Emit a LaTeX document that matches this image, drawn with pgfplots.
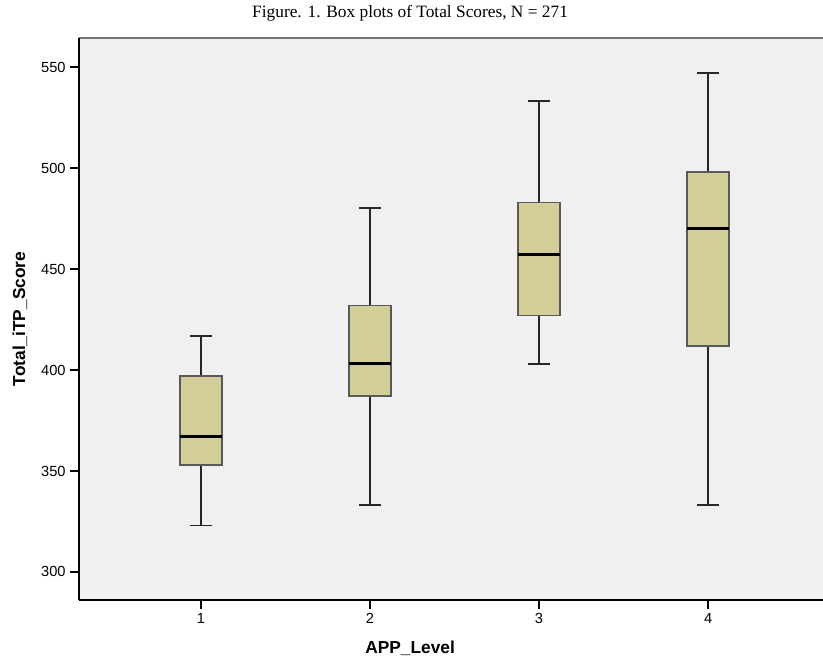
\documentclass[border=0pt]{standalone}
\usepackage{pgfplots}
\pgfplotsset{compat=1.18}
\usepackage{fontspec}
\setmainfont{Liberation Serif}
\newfontfamily\arial{Liberation Sans}
\definecolor{boxfill}{RGB}{211,206,151}
\definecolor{bgc}{RGB}{240,240,240}
\begin{document}
\begin{tikzpicture}
\begin{axis}[
 scale only axis, width=558pt, height=421.5pt,
 xmin=0.278, xmax=4.680, ymin=286.1, ymax=564.4,
 axis background/.style={fill=bgc},
 axis line style={draw=none},
 xtick={1,2,3,4}, ytick={300,350,...,550},
 tick align=outside, xtick pos=bottom, ytick pos=left,
 major tick length=6.5pt,
 tick style={black, line width=1pt},
 ticklabel style={font=\arial\fontsize{11}{13}\selectfont},
 /pgf/number format/assume math mode=true,
 xlabel={APP\_Level}, ylabel={Total\_iTP\_Score},
 label style={font=\arial\bfseries\fontsize{13}{15}\selectfont},
 xlabel style={at={(axis description cs:0.445,-0.0854)}, anchor=center},
 ylabel style={at={(axis description cs:-0.0793,0.5)}, anchor=center},
 every axis title shift=0pt,
 title={Figure. 1. Box plots of Total Scores, N = 271},
 title style={at={(axis description cs:0.445,1)}, anchor=base, yshift=15pt, font=\fontsize{13}{15}\selectfont},
 clip=false,
 whisk/.style={draw=black!85, line width=1.4pt},
 boxs/.style={draw=black!65, line width=1.2pt, fill=boxfill},
 med/.style={draw=black, line width=2.3pt},
]
% Level 1: 323, 353, 367, 397, 417
\addplot[whisk] coordinates {(1,397) (1,417)};
\addplot[whisk] coordinates {(0.935,417) (1.065,417)};
\addplot[whisk] coordinates {(1,353) (1,323)};
\addplot[whisk] coordinates {(0.935,323) (1.065,323)};
\addplot[boxs] coordinates {(0.875,353) (1.125,353) (1.125,397) (0.875,397)} -- cycle;
\addplot[med] coordinates {(0.875,367) (1.125,367)};
% Level 2: 333, 387, 403, 432, 480
\addplot[whisk] coordinates {(2,432) (2,480)};
\addplot[whisk] coordinates {(1.935,480) (2.065,480)};
\addplot[whisk] coordinates {(2,387) (2,333)};
\addplot[whisk] coordinates {(1.935,333) (2.065,333)};
\addplot[boxs] coordinates {(1.875,387) (2.125,387) (2.125,432) (1.875,432)} -- cycle;
\addplot[med] coordinates {(1.875,403) (2.125,403)};
% Level 3: 403, 427, 457, 483, 533
\addplot[whisk] coordinates {(3,483) (3,533)};
\addplot[whisk] coordinates {(2.935,533) (3.065,533)};
\addplot[whisk] coordinates {(3,427) (3,403)};
\addplot[whisk] coordinates {(2.935,403) (3.065,403)};
\addplot[boxs] coordinates {(2.875,427) (3.125,427) (3.125,483) (2.875,483)} -- cycle;
\addplot[med] coordinates {(2.875,457) (3.125,457)};
% Level 4: 333, 412, 470, 498, 547
\addplot[whisk] coordinates {(4,498) (4,547)};
\addplot[whisk] coordinates {(3.935,547) (4.065,547)};
\addplot[whisk] coordinates {(4,412) (4,333)};
\addplot[whisk] coordinates {(3.935,333) (4.065,333)};
\addplot[boxs] coordinates {(3.875,412) (4.125,412) (4.125,498) (3.875,498)} -- cycle;
\addplot[med] coordinates {(3.875,470) (4.125,470)};
\draw[black!55, line width=1.2pt] (rel axis cs:0,1) -- (rel axis cs:1,1);
\draw[black, line width=1pt] (rel axis cs:0,0) -- (rel axis cs:0,1);
\draw[black, line width=1pt] (rel axis cs:0,0) -- (rel axis cs:1,0);
\end{axis}
\pgfresetboundingbox
\path[use as bounding box] (-59.25pt,-45pt) rectangle (558pt,450pt);
\end{tikzpicture}
\end{document}
